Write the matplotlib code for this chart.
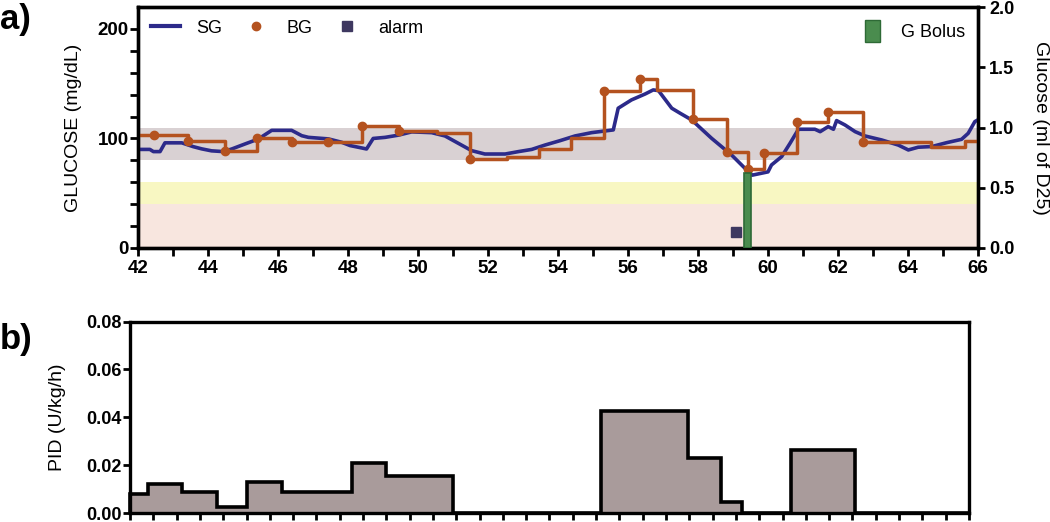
import matplotlib
matplotlib.use('Agg')
import matplotlib.pyplot as plt
import numpy as np
from matplotlib.lines import Line2D
from matplotlib.patches import Patch

plt.rcParams['font.family'] = ['Liberation Sans', 'DejaVu Sans']

# sensor glucose (SG), hours vs mg/dL
sg_t = [42.0, 42.34, 42.44, 42.63, 42.77, 43.25, 43.58, 43.82, 44.1, 44.44,
        44.68, 45.06, 45.44, 45.82, 46.39, 46.68, 46.87, 47.44, 47.82, 48.06,
        48.29, 48.53, 48.72, 49.06, 49.44, 49.82, 50.39, 50.77, 51.15, 51.53,
        51.91, 52.49, 52.87, 53.25, 53.63, 54.06, 54.49, 54.96, 55.58, 55.72,
        56.1, 56.49, 56.72, 56.87, 57.25, 57.49, 57.82, 58.39, 58.96, 59.39,
        59.55, 60.0, 60.1, 60.39, 60.63, 60.87, 61.34, 61.49, 61.72, 61.87,
        61.96, 62.2, 62.49, 62.77, 63.25, 63.72, 64.01, 64.29, 64.68, 65.11,
        65.53, 65.72, 65.91, 66.0]
sg_v = [90, 90, 88, 88, 96, 96, 92.5, 90.5, 88.7, 88,
        90.4, 95, 99.5, 107.4, 107.4, 102.5, 101, 99.6, 96.5, 93.5,
        92, 90.4, 100, 101, 103, 106, 105.3, 102.3, 95.6, 88.9,
        85.8, 85.8, 88, 90, 94, 98, 102.3, 105.3, 107.8, 127.6,
        135.2, 140.6, 144.3, 143.7, 127.6, 123, 116.9, 100.1, 84.9, 71.2,
        66.5, 69.5, 75.8, 83.4, 95.6, 108.4, 108.4, 106.2, 110.8, 108.4,
        116.3, 112.3, 106.2, 102.3, 98.6, 94, 89.5, 92, 92.6, 96.2,
        99.2, 104.7, 115.4, 117]

# blood glucose (BG), held until next value
bg_t = [42.0, 42.45, 43.44, 44.49, 45.4, 46.4, 47.42, 48.4, 49.46, 50.53,
        51.5, 52.53, 53.45, 54.37, 55.32, 56.35, 56.82, 57.87, 58.83, 59.42,
        59.9, 60.82, 61.72, 62.72, 64.66, 65.63]
bg_v = [103, 103, 98, 89, 100, 97, 97, 111, 107, 105,
        81, 83, 90, 100, 143, 154, 144, 118, 88, 72,
        87, 115, 124, 97, 92, 98]
bg_dot = [0, 1, 1, 1, 1, 1, 1, 1, 1, 0,
          1, 0, 0, 0, 1, 1, 0, 1, 1, 1,
          1, 1, 1, 1, 0, 0]

alarm_t = [59.08]
alarm_v = [15]

bolus_t = [59.4]
bolus_ml = [0.62]

# PID insulin rate
pid_edges = [42.0, 42.51, 43.49, 44.49, 45.35, 46.35, 48.35, 49.32, 51.24,
             55.47, 57.96, 58.9, 59.5, 60.9, 62.74, 66.0]
pid_v = [0.0081, 0.0123, 0.0088, 0.0025, 0.0128, 0.0088, 0.0207, 0.0155,
         0.0, 0.0426, 0.023, 0.0046, 0.0, 0.0265, 0.0]

SG_COLOR = '#2c2a8a'
BG_COLOR = '#b4521f'

fig = plt.figure(figsize=(10.5, 5.22), dpi=100)
ax = fig.add_axes([138 / 1050, 1 - 248 / 522, 840 / 1050, 241 / 522])
ax2 = ax.twinx()
bx = fig.add_axes([130 / 1050, 1 - 513 / 522, 839 / 1050, 191.5 / 522])

# target / warning bands
ax.axhspan(80, 110, color='#d9d1d3', lw=0, zorder=0)
ax.axhspan(40, 60, color='#f8f7c2', lw=0, zorder=0)
ax.axhspan(0, 40, color='#f8e6df', lw=0, zorder=0)

ax.plot(sg_t, sg_v, color=SG_COLOR, lw=2.6, zorder=3)
ax.step(bg_t + [66], bg_v + [bg_v[-1]], where='post', color=BG_COLOR, lw=2.5, zorder=4)
dt = [t for t, d in zip(bg_t, bg_dot) if d]
dv = [v for v, d in zip(bg_v, bg_dot) if d]
ax.plot(dt, dv, 'o', color=BG_COLOR, ms=6, zorder=5)
ax.plot(alarm_t, alarm_v, 's', color='#3e3860', ms=7, zorder=5)

ax2.bar(bolus_t, bolus_ml, width=0.2, color='#4a8c4e', edgecolor='#2e6a36', lw=1.2, zorder=3)

ax.set_xlim(42, 66)
ax.set_ylim(0, 220)
ax2.set_ylim(0, 2.0)

ax.set_xticks(range(42, 67, 2))
ax.set_xticks(range(43, 66, 2), minor=True)
ax.set_yticks([0, 100, 200])
ax.set_yticks(range(20, 220, 20), minor=True)
ax.tick_params(which='both', direction='out', width=2, length=5.5, labelsize=13.5)
ax.tick_params(axis='y', pad=1)
ax.tick_params(axis='x', pad=3)
ax2.set_yticks([0, 0.5, 1.0, 1.5, 2.0])
ax2.set_yticklabels(['%.1f' % v for v in [0, 0.5, 1.0, 1.5, 2.0]])
ax2.tick_params(direction='out', width=2, length=5, labelsize=13, pad=3)

for lbl in ax.get_xticklabels() + ax.get_yticklabels() + ax2.get_yticklabels():
    lbl.set_fontweight('bold')

for a in (ax, ax2, bx):
    for s in a.spines.values():
        s.set_linewidth(2.4)

ax.set_ylabel('GLUCOSE (mg/dL)', fontsize=14)
ax.yaxis.set_label_coords(-0.067, 0.5)
ax2.set_ylabel('Glucose (ml of D25)', fontsize=14, rotation=270, va='bottom')
ax2.yaxis.set_label_coords(1.064, 0.5)

h1 = [Line2D([], [], color=SG_COLOR, lw=3),
      Line2D([], [], ls='none', marker='o', color=BG_COLOR, ms=6),
      Line2D([], [], ls='none', marker='s', color='#3e3860', ms=7)]
leg = ax2.legend(h1, ['SG', 'BG', 'alarm'], loc='upper left', bbox_to_anchor=(0.0, 1.0),
                 ncol=3, frameon=False, fontsize=13, handlelength=1.6,
                 handletextpad=0.9, columnspacing=1.1, borderaxespad=0.3)
ax2.add_artist(leg)
ax2.legend([Patch(facecolor='#4a8c4e', edgecolor='#2e6a36')], ['G Bolus'],
           loc='upper right', frameon=False, fontsize=13, handlelength=0.8,
           handleheight=1.5, handletextpad=1.2, borderaxespad=0.3)

# PID panel
bx.stairs(pid_v, pid_edges, fill=True, color='#a99b9b', lw=0)
bx.stairs(pid_v, pid_edges, color='black', lw=2.6, baseline=0, clip_on=False)
bx.set_xlim(42, 66)
bx.set_ylim(0, 0.08)
bx.set_xticks(np.linspace(42, 66, 37))
bx.set_xticklabels([])
bx.set_yticks([0, 0.02, 0.04, 0.06, 0.08])
bx.set_yticklabels(['%.2f' % v for v in [0, 0.02, 0.04, 0.06, 0.08]], fontweight='bold')
bx.tick_params(direction='out', width=2, length=5, labelsize=13, pad=1)
bx.set_ylabel('PID (U/kg/h)', fontsize=14)
bx.yaxis.set_label_coords(-0.076, 0.5)

fig.text(0.0, 1 - 20 / 522, 'a)', fontsize=25, fontweight='bold', ha='left', va='center')
fig.text(0.0, 1 - 340 / 522, 'b)', fontsize=25, fontweight='bold', ha='left', va='center')

fig.savefig('out.png', dpi=100)
